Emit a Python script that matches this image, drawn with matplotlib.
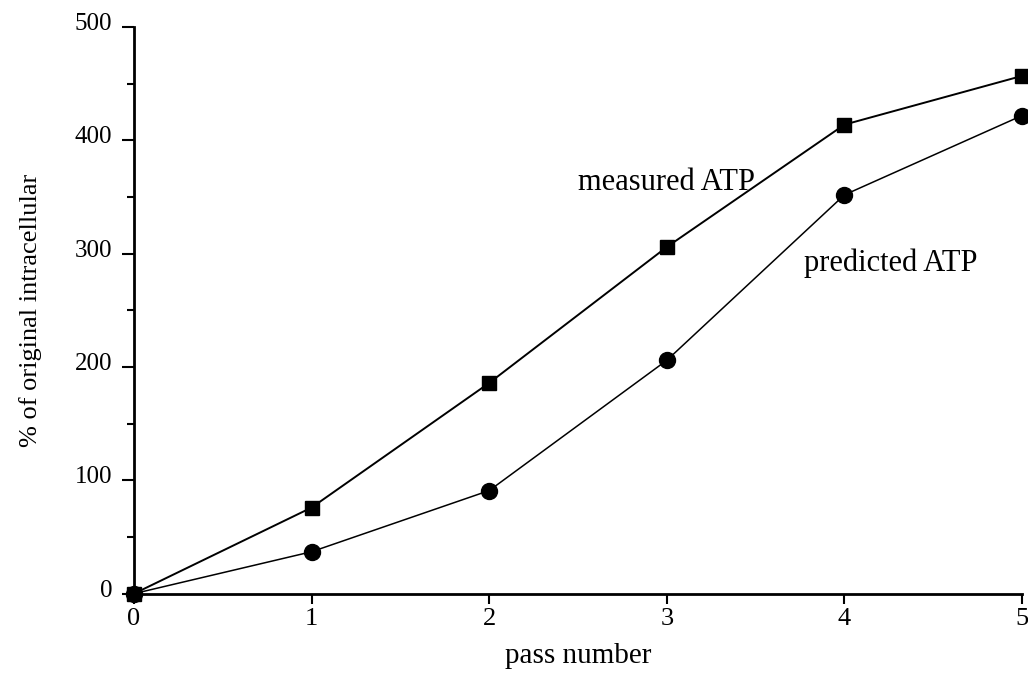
import numpy as np
import matplotlib
matplotlib.use('Agg')
import matplotlib.pyplot as plt
from matplotlib.ticker import MultipleLocator
import matplotlib.transforms as mtransforms

plt.rcParams['font.family'] = ['Liberation Serif', 'DejaVu Serif']

# ATP as % of original intracellular content after each pass
passes = [0, 1, 2, 3, 4, 5]
measured = [0, 76, 186, 306, 414, 457]
predicted = [0, 37, 91, 206, 352, 422]

fig = plt.figure(figsize=(10.28, 6.8), dpi=100)
ax = fig.add_axes([0.1304, 0.127, 0.8638, 0.833])

ax.plot(passes, measured, color='black', linewidth=1.4, marker='s',
        markersize=10, clip_on=False, zorder=3)
ax.plot(passes, predicted, color='black', linewidth=1.1, marker='o',
        markersize=11.5, clip_on=False, zorder=3)

# labels next to the curves
ax.text(2.5, 363, 'measured ATP', fontsize=22, va='center', ha='left')
ax.text(3.77, 292, 'predicted ATP', fontsize=22, va='center', ha='left')

ax.set_xlim(0, 5)
ax.set_ylim(0, 500)

# only left and bottom axis lines
ax.spines['top'].set_visible(False)
ax.spines['right'].set_visible(False)
ax.spines['left'].set_linewidth(2.0)
ax.spines['bottom'].set_linewidth(2.0)

ax.xaxis.set_major_locator(MultipleLocator(1))
ax.yaxis.set_major_locator(MultipleLocator(100))
ax.yaxis.set_minor_locator(MultipleLocator(50))

ax.tick_params(axis='x', which='major', direction='out', length=7,
               width=1.5, pad=3, labelsize=19)
ax.tick_params(axis='y', which='major', direction='out', length=8.6,
               width=1.5, pad=7, labelsize=18)
ax.tick_params(axis='y', which='minor', direction='out', length=5,
               width=1.5)

# y numbers sit a little above their tick
shift = mtransforms.ScaledTranslation(0, 4 / 72, fig.dpi_scale_trans)
for lab in ax.get_yticklabels():
    lab.set_transform(lab.get_transform() + shift)

ax.set_xlabel('pass number', fontsize=21, labelpad=10)
ax.set_ylabel('% of original intracellular', fontsize=19, labelpad=24)

fig.savefig('out.png', dpi=100)
